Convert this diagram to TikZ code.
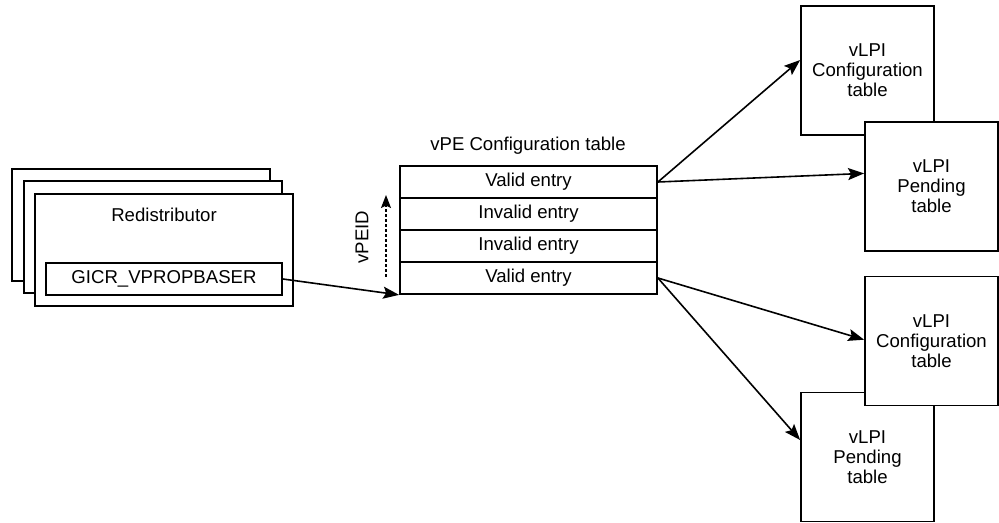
\documentclass[tikz,border=0pt]{standalone}
\usepackage{fontspec}
\setmainfont{Liberation Sans}
\usetikzlibrary{arrows.meta,calc}
\begin{document}
\begin{tikzpicture}[x=0.5pt,y=-0.5pt,
  font=\fontsize{9.3}{10}\selectfont,
  box/.style={draw,line width=0.9pt,fill=white,inner sep=0pt},
  redbox/.style={box,minimum width=129pt,minimum height=56pt},
  rowbox/.style={box,minimum width=128.5pt,minimum height=16pt},
  tbl/.style={box,minimum width=66.5pt,minimum height=64.5pt,align=center},
  arr/.style={line width=0.8pt,-{Stealth[length=8pt,width=6pt,inset=1.5pt]}}]
\useasboundingbox (0,0) rectangle (999,523);
% Redistributor stack
\node[redbox] (r1) at (141,225) {};
\node[redbox] (r2) at (153,237) {};
\node[redbox] (r3) at (164,250) {};
\node (rl) at (164,215) {Redistributor};
\node[box,minimum width=118pt,minimum height=16pt] (gicr) at (164,279) {GICR\_VPROPBASER};
% vPE table
\node (title) at (528,146) {vPE Configuration table};
\node[rowbox] (row1) at (528.5,182) {Valid entry};
\node[rowbox] (row2) at (528.5,214) {Invalid entry};
\node[rowbox] (row3) at (528.5,246) {Invalid entry};
\node[rowbox] (row4) at (528.5,278) {Valid entry};
% vPEID
\coordinate (vb) at (386,277);
\coordinate (vt) at (386,195);
\draw[line width=0.7pt,dash pattern=on 1.5pt off 1pt,-{Stealth[length=6.5pt,width=5pt,inset=1.2pt]}] (vb) -- (vt);
\node[rotate=90] (vl) at (362,237) {vPEID};
% vLPI tables
\node[tbl] (c1) at (867.5,70.5) {vLPI\\Configuration\\table};
\node[tbl] (p1) at (931.5,186.5) {vLPI\\Pending\\table};
\node[tbl] (p2) at (867.5,457) {vLPI\\Pending\\table};
\node[tbl] (c2) at (931.5,341) {vLPI\\Configuration\\table};
% connectors
\draw[arr] (gicr.east) -- (row4.south west);
\draw[arr] (row1.east) -- ($(c1.north west)!0.42!(c1.south west)$);
\draw[arr] (row1.east) -- ($(p1.north west)!0.40!(p1.south west)$);
\draw[arr] (row4.east) -- ($(c2.north west)!0.49!(c2.south west)$);
\draw[arr] (row4.east) -- ($(p2.north west)!0.37!(p2.south west)$);
\end{tikzpicture}
\end{document}
